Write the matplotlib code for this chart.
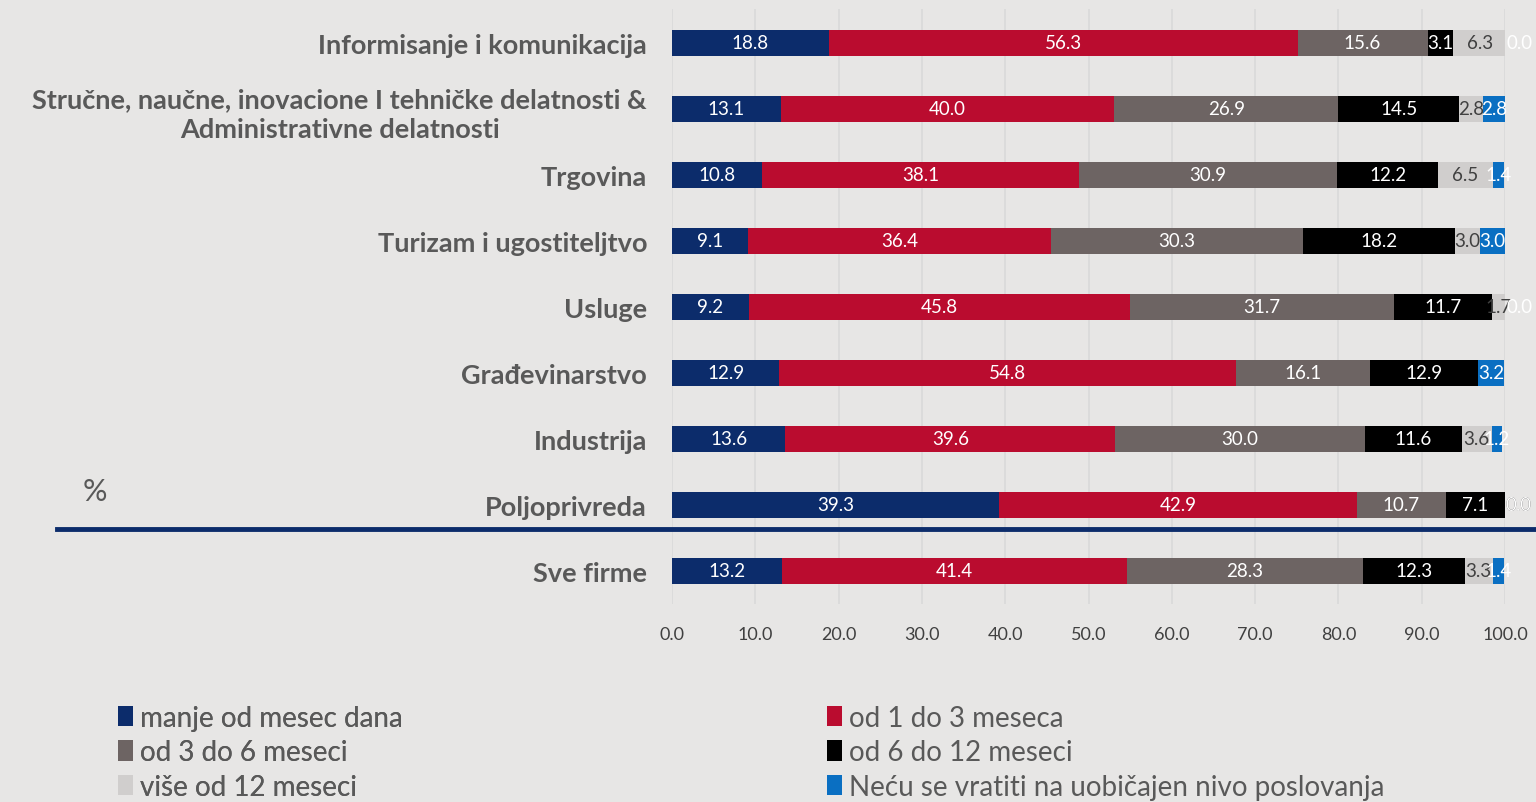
import numpy as np
import matplotlib.pyplot as plt
from matplotlib.lines import Line2D

plt.rcParams['font.family'] = ['Lato', 'DejaVu Sans']

categories = ['Informisanje i komunikacija',
              'Stručne, naučne, inovacione I tehničke delatnosti &\nAdministrativne delatnosti',
              'Trgovina', 'Turizam i ugostiteljtvo', 'Usluge', 'Građevinarstvo',
              'Industrija', 'Poljoprivreda', 'Sve firme']

series_names = ['manje od mesec dana', 'od 1 do 3 meseca', 'od 3 do 6 meseci',
                'od 6 do 12 meseci', 'više od 12 meseci',
                'Neću se vratiti na uobičajen nivo poslovanja']

manje_od_mesec = [18.8, 13.1, 10.8, 9.1, 9.2, 12.9, 13.6, 39.3, 13.2]
od_1_do_3 = [56.3, 40.0, 38.1, 36.4, 45.8, 54.8, 39.6, 42.9, 41.4]
od_3_do_6 = [15.6, 26.9, 30.9, 30.3, 31.7, 16.1, 30.0, 10.7, 28.3]
od_6_do_12 = [3.1, 14.5, 12.2, 18.2, 11.7, 12.9, 11.6, 7.1, 12.3]
vise_od_12 = [6.3, 2.8, 6.5, 3.0, 1.7, 0.0, 3.6, 0.0, 3.3]
necu_se_vratiti = [0.0, 2.8, 1.4, 3.0, 0.0, 3.2, 1.2, 0.0, 1.4]

series = [manje_od_mesec, od_1_do_3, od_3_do_6, od_6_do_12, vise_od_12, necu_se_vratiti]
colors = ['#0c2c6b', '#ba0c2f', '#6d6463', '#000000', '#d0cecd', '#0a6fc2']
text_colors = ['white', 'white', 'white', 'white', '#404040', 'white']

bg = '#e7e6e5'
fig = plt.figure(figsize=(15.36, 8.03), dpi=100, facecolor=bg)
W, H = 1536, 803
ax = fig.add_axes([672 / W, 1 - 605 / H, (1505 - 672) / W, (605 - 10) / H])
ax.set_facecolor(bg)

y = np.arange(len(categories))
left = np.zeros(len(categories))
handles = []
for i, (vals, col, tc, name) in enumerate(zip(series, colors, text_colors, series_names)):
    vals = np.array(vals)
    b = ax.barh(y, vals, left=left, height=0.4, color=col, label=name, zorder=3 + 2 * i)
    handles.append(b)
    for yi, l, v in zip(y, left, vals):
        xpos = l + v / 2 if v > 0 else l + 1.6
        ax.text(xpos, yi, f'{v:.1f}', ha='center', va='center', color=tc,
                fontsize=13.5, zorder=4 + 2 * i, clip_on=False)
    left += vals

ax.set_xlim(0, 100)
ax.set_ylim(8.5, -0.515)
ax.set_xticks(np.arange(0, 101, 10))
ax.set_xticklabels([f'{t:.1f}' for t in np.arange(0, 101, 10)], color='#404040', fontsize=13)
ax.tick_params(axis='x', length=0, pad=16)
ax.set_yticks(y)
ax.set_yticklabels(categories, fontweight='bold', color='#595959', fontsize=19.5,
                   linespacing=1.3)
ax.tick_params(axis='y', length=0, pad=18)
for lab in ax.get_yticklabels():
    lab.set_ha('right')
    lab.set_multialignment('center')
ax.grid(axis='x', color='#d9d9d9', lw=1.2, zorder=0)
for s in ax.spines.values():
    s.set_visible(False)

fig.add_artist(Line2D([57 / W, 1.0], [1 - 530 / H, 1 - 530 / H], color='#0c2c6b', lw=3.5))
fig.text(95 / W, 1 - 492 / H, '%', fontsize=22, color='#595959', ha='center', va='center')

leg_kw = dict(loc='upper left', frameon=False, fontsize=20, labelcolor='#595959',
              handlelength=0.55, handleheight=0.75, handletextpad=0.25,
              labelspacing=0.3, borderpad=0, borderaxespad=0)
leg1 = fig.legend([handles[i] for i in (0, 2, 4)], [series_names[i] for i in (0, 2, 4)],
                  bbox_to_anchor=(118 / W, 1 - 706 / H), **leg_kw)
fig.add_artist(leg1)
fig.legend([handles[i] for i in (1, 3, 5)], [series_names[i] for i in (1, 3, 5)],
           bbox_to_anchor=(827 / W, 1 - 706 / H), **leg_kw)

fig.savefig('out.png', dpi=100, facecolor=bg)
